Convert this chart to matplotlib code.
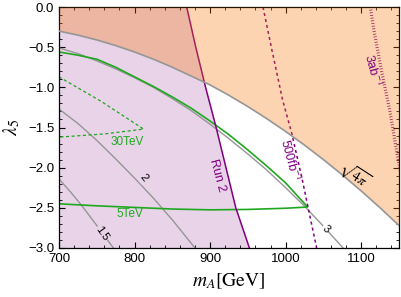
import numpy as np
import matplotlib
matplotlib.use('Agg')
import matplotlib.pyplot as plt
from matplotlib.ticker import MultipleLocator


# perturbativity bound sqrt(4 pi)
sqrt4pi_m = [700, 725, 750, 775, 800, 825, 850, 875, 900, 925, 950, 975,
             1000, 1025, 1050, 1075, 1100, 1125, 1150]
sqrt4pi_lam = [-0.30, -0.35, -0.41, -0.48, -0.56, -0.65, -0.75, -0.86, -0.97, -1.10,
               -1.24, -1.39, -1.55, -1.72, -1.90, -2.09, -2.29, -2.50, -2.72]

# Run 2 exclusion (solid purple)
run2_lam = [0.0, -0.5, -1.0, -1.5, -2.0, -2.5, -3.0]
run2_m = [869, 881, 894, 908, 921, 934, 952]

# 500 fb^-1 projection (dashed purple)
fb500_lam = [0.0, -0.5, -1.16, -1.57, -2.15, -2.6, -3.0]
fb500_m = [970, 981, 996, 1008, 1022, 1032, 1041]

# 3 ab^-1 projection (dotted purple)
ab3_lam = [0.0, -0.3, -0.8, -1.3, -1.8, -2.1]
ab3_m = [1112, 1117, 1127, 1138, 1147, 1153]

# gray contours
c3_m = [700, 725, 750, 775, 800, 825, 850, 875, 900, 925, 950, 975, 1000, 1025, 1050, 1076]
c3_lam = [-0.51, -0.58, -0.67, -0.77, -0.88, -1.00, -1.14, -1.29, -1.46, -1.64,
          -1.83, -2.03, -2.25, -2.48, -2.73, -3.0]
c2_m = [700, 725, 750, 775, 800, 825, 850, 880]
c2_lam = [-1.27, -1.45, -1.66, -1.89, -2.13, -2.38, -2.65, -3.0]
c15_m = [700, 715, 730, 750, 772]
c15_lam = [-2.14, -2.30, -2.47, -2.72, -3.0]

# green 5 TeV (solid) and 30 TeV (dashed)
g5_m = [700, 725, 750, 775, 800, 825, 850, 875, 900, 925, 950, 975, 1000, 1029,
        1000, 950, 900, 850, 800, 750, 700]
g5_lam = [-0.56, -0.60, -0.65, -0.75, -0.87, -0.99, -1.12, -1.26, -1.42, -1.59,
          -1.78, -1.98, -2.19, -2.49,
          -2.505, -2.52, -2.525, -2.515, -2.495, -2.475, -2.45]
g30_m = [700, 755, 812, 760, 700]
g30_lam = [-0.87, -1.17, -1.52, -1.58, -1.62]

plt.rcParams['font.family'] = ['Liberation Sans', 'DejaVu Sans']
plt.rcParams['mathtext.fontset'] = 'stix'

PURPLE = '#800080'
GREEN = '#1fa81f'
GRAY = '#969696'
LAVENDER = '#e8d3e8'

fig = plt.figure(figsize=(4.02, 2.97), dpi=100)
ax = fig.add_axes([59 / 402, 49 / 297, 340 / 402, 241 / 297])

# excluded by Run 2
ax.fill_betweenx(run2_lam, 700, run2_m, color=LAVENDER, lw=0, zorder=1)

ax.plot(c3_m, c3_lam, color=GRAY, lw=1.0, zorder=2)
ax.plot(c2_m, c2_lam, color=GRAY, lw=1.0, zorder=2)
ax.plot(c15_m, c15_lam, color=GRAY, lw=1.0, zorder=2)
ax.plot(g5_m, g5_lam, color=GREEN, lw=1.2, zorder=2)
ax.plot(g30_m, g30_lam, color=GREEN, lw=0.9, ls=(0, (2.5, 2)), zorder=2)

ax.plot(run2_m, run2_lam, color=PURPLE, lw=1.1, zorder=2)
ax.plot(fb500_m, fb500_lam, color=PURPLE, lw=1.1, ls=(0, (2, 2)), zorder=2)
ax.plot(ab3_m, ab3_lam, color=PURPLE, lw=2.3, ls=(0, (0.25, 0.6)), zorder=2)

# non-perturbative region
ax.fill_between(sqrt4pi_m, sqrt4pi_lam, 0, color='#f87300', alpha=0.3, lw=0, zorder=3)
ax.plot(sqrt4pi_m, sqrt4pi_lam, color=GRAY, lw=1.2, zorder=4)

# labels
ax.text(812, -2.13, '2', rotation=-52, fontsize=8, ha='center', va='center', zorder=5,
        bbox=dict(fc=LAVENDER, ec='none', pad=0.5))
ax.text(757, -2.82, '1.5', rotation=-55, fontsize=8, ha='center', va='center', zorder=5,
        bbox=dict(fc=LAVENDER, ec='none', pad=0.5))
ax.text(1053, -2.76, '3', rotation=-45, fontsize=8, ha='center', va='center', zorder=5,
        bbox=dict(fc='white', ec='none', pad=0.5))
ax.text(1090, -2.10, r'$\sqrt{4\pi}$', rotation=-33, fontsize=10, ha='center', va='center',
        zorder=5)
ax.text(794, -2.58, '5TeV', color=GREEN, fontsize=8.5, ha='center', va='center', zorder=5)
ax.text(790, -1.68, '30TeV', color=GREEN, fontsize=8.5, ha='center', va='center', zorder=5)
ax.text(909, -2.10, 'Run 2', color=PURPLE, rotation=-75, fontsize=9, ha='center',
        va='center', zorder=5)
ax.text(1005, -1.90, r'500fb$^{-1}$', color=PURPLE, rotation=-75, fontsize=9, ha='center',
        va='center', zorder=5)
ax.text(1115, -0.78, r'3ab$^{-1}$', color=PURPLE, rotation=-75, fontsize=9, ha='center',
        va='center', zorder=5)

ax.set_xlim(700, 1150)
ax.set_ylim(-3.0, 0.0)
ax.xaxis.set_major_locator(MultipleLocator(100))
ax.xaxis.set_minor_locator(MultipleLocator(20))
ax.yaxis.set_major_locator(MultipleLocator(0.5))
ax.yaxis.set_minor_locator(MultipleLocator(0.1))
ax.tick_params(which='both', direction='in', top=True, right=True, labelsize=9.5)
ax.tick_params(which='major', length=4, width=0.8)
ax.tick_params(which='minor', length=2, width=0.6)
for s in ax.spines.values():
    s.set_linewidth(0.9)

ax.set_xlabel(r'$m_A[\mathrm{GeV}]$', fontsize=14, labelpad=5)
ax.set_ylabel(r'$\lambda_5$', fontsize=14, labelpad=4)

fig.savefig('out.png', dpi=100)
